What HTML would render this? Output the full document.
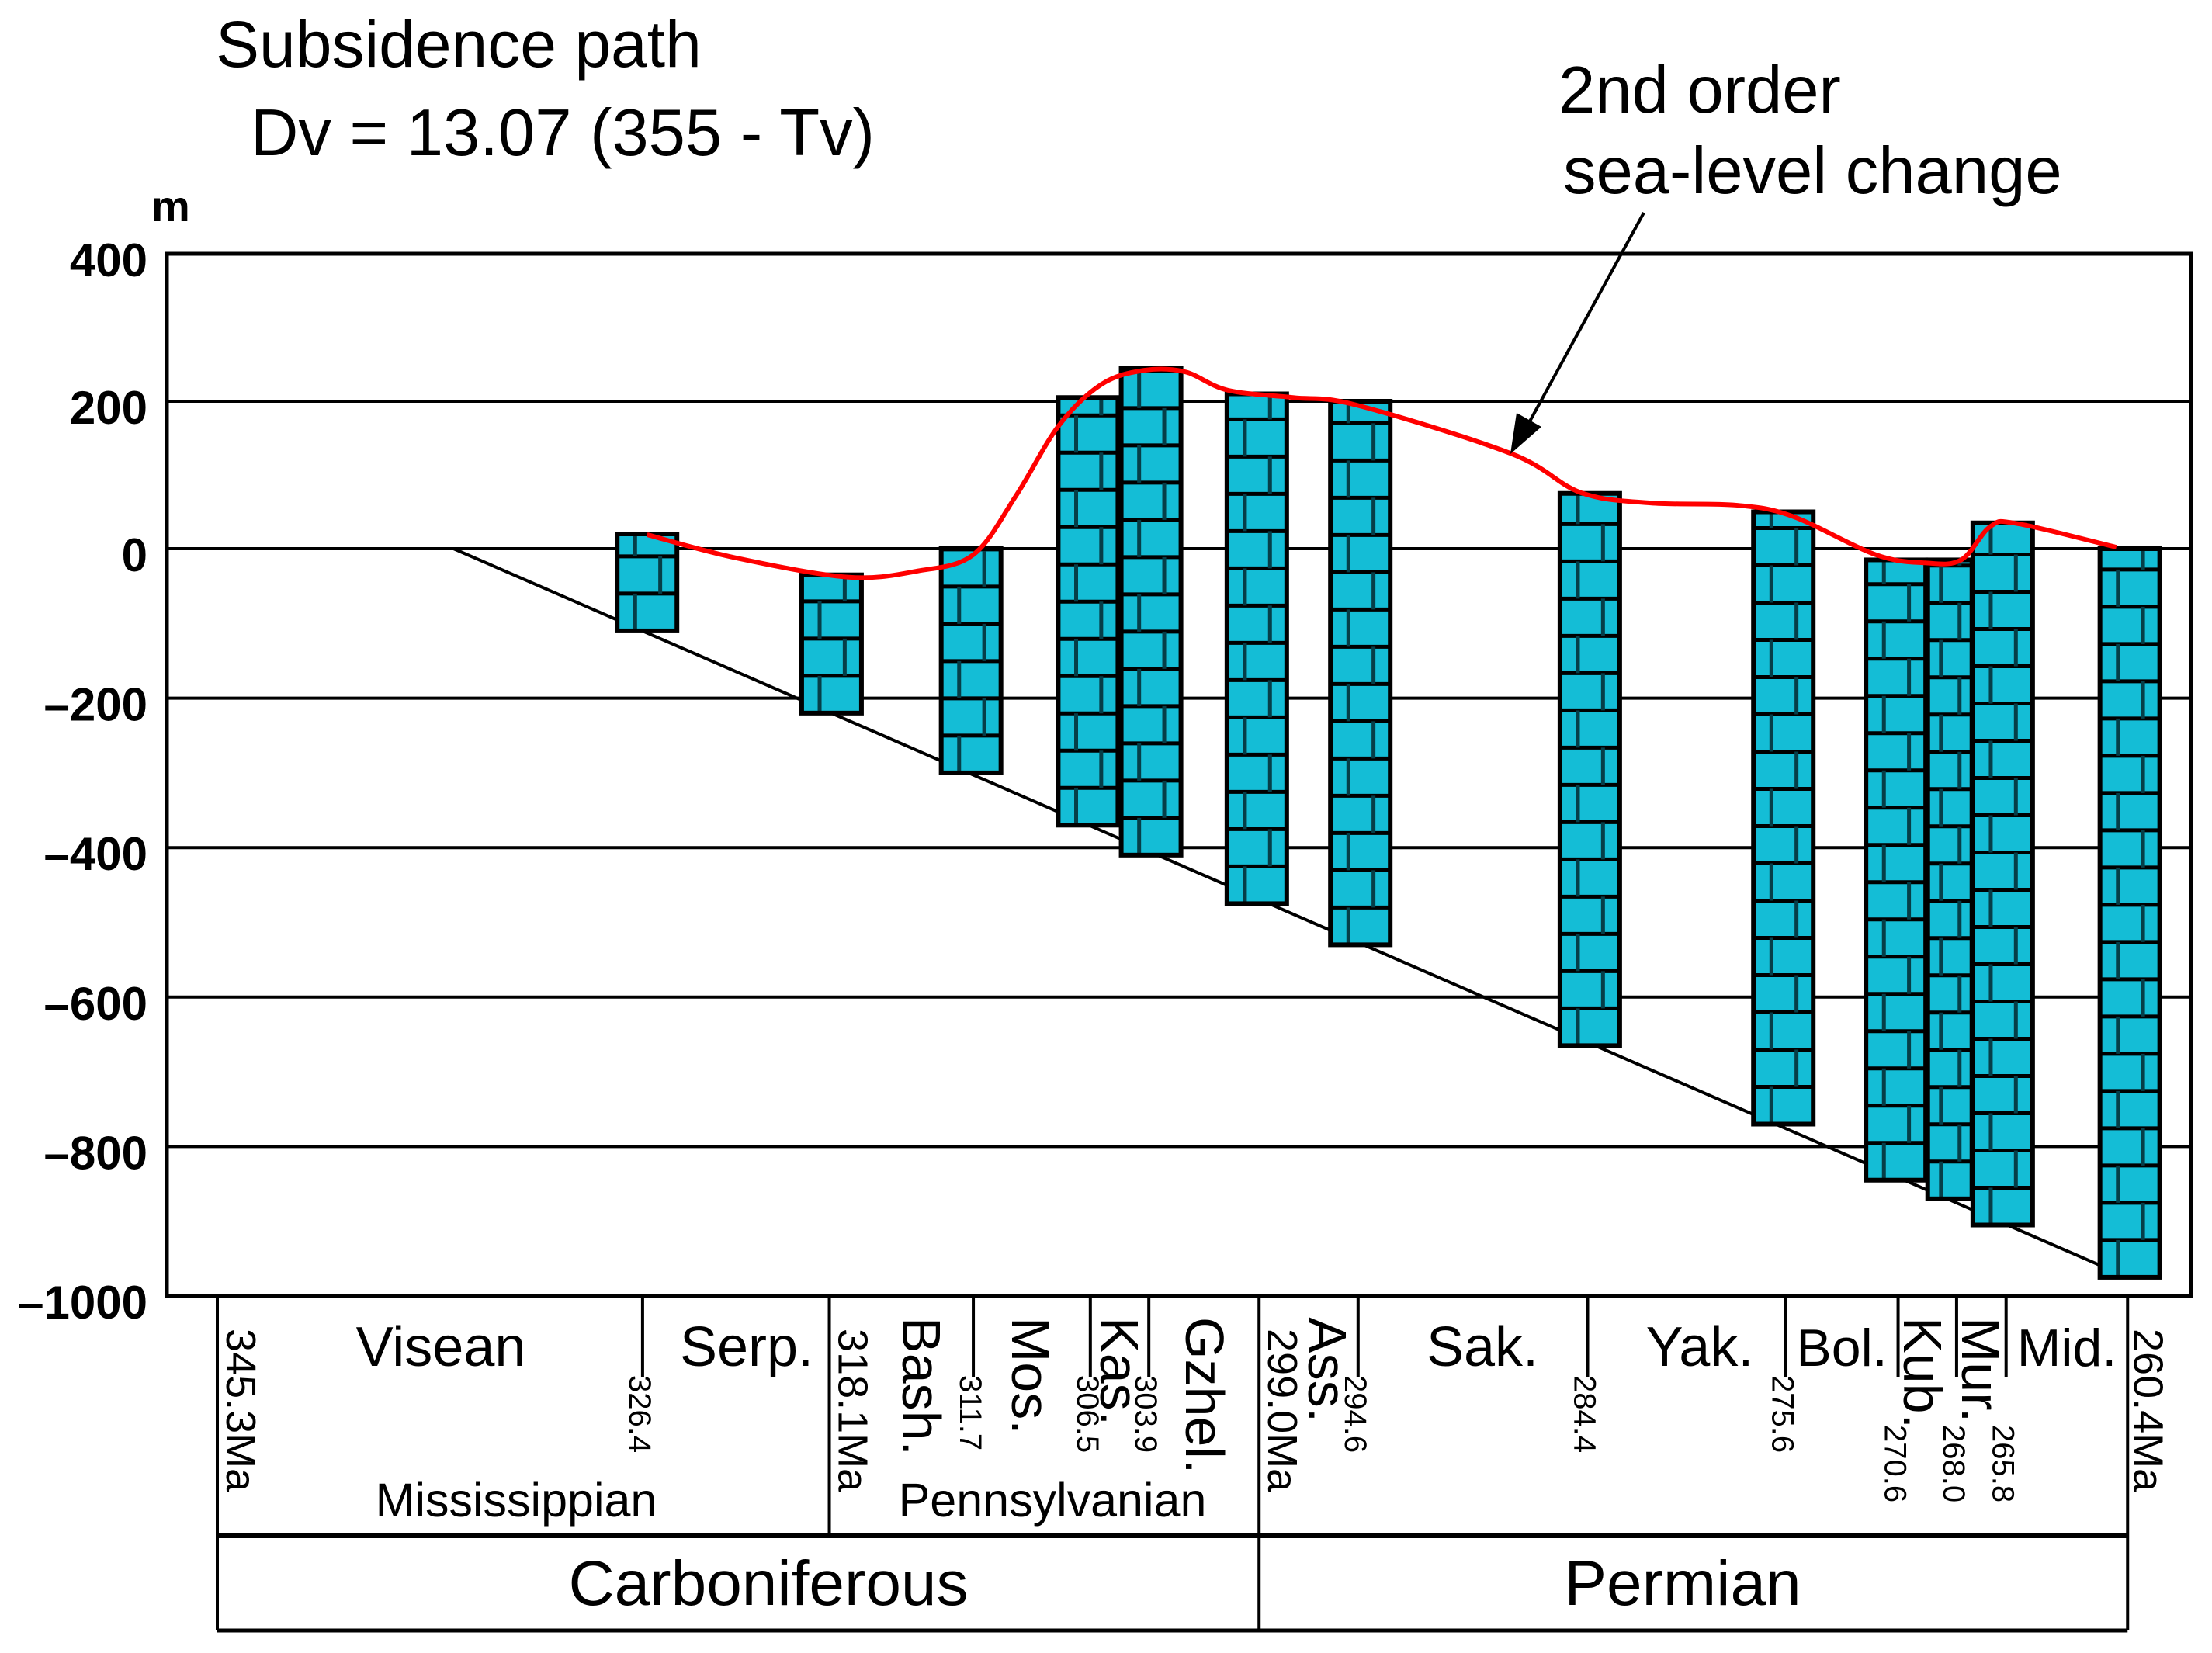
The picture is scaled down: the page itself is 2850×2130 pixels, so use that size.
<!DOCTYPE html>
<html><head><meta charset="utf-8"><style>
html,body{margin:0;padding:0;background:#fff}
svg{display:block}
text{font-family:"Liberation Sans",Arial,sans-serif;fill:#000}
</style></head><body>
<svg id="chart" width="2850" height="2130" viewBox="0 0 2850 2130" xmlns="http://www.w3.org/2000/svg">
<text x="278" y="86" font-size="84">Subsidence path</text>
<text x="323" y="200" font-size="85">Dv = 13.07 (355 - Tv)</text>
<text x="2008" y="145" font-size="85">2nd order</text>
<text x="2014" y="249" font-size="85">sea-level change</text>
<text x="195" y="285" font-size="56" font-weight="bold">m</text>
<g id="grid"></g>
<g id="yticks"></g>
<g id="subs"></g>
<g id="bars"></g>
<g id="curve"></g>
<g id="frame"></g>
<g id="header"></g>
<g>
<line x1="2118" y1="274" x2="1966" y2="552" stroke="#000" stroke-width="4"/>
<polygon points="1946,585 1954,532 1986,550" fill="#000"/>
</g>
</svg>
<script>
const yTicks=[400,200,0,-200,-400,-600,-800,-1000];
const barTimes=[326.2,318.0,311.8,306.6,303.8,299.1,294.5,284.3,275.7,270.7,268.3,265.95,260.3];
const barTops=[20,-35,0,205,245,210,200,75,50,-15,-15,35,0];
const barBottoms=[-110,-220,-300,-370,-410,-475,-530,-665,-770,-845,-870,-905,-975];
const curveTimes=[326.2,322.3,317.3,314.2,311.7,309.8,307.9,306.0,304.1,302.3,300.4,297.5,294.7,287.8,284.7,281.6,277.8,275.3,271.6,269.4,267.8,266.5,265.3,260.9];
const curveValues=[19,-12,-38,-30,-8,72,167,223,242,240,215,205,195,129,76,62,59,44,-8,-19,-15,30,34,2];
const subsTimes=[334.8,260.4];
const subsDepths=[0,-975];
const boundaryTimes=[345.3,326.4,318.1,311.7,306.5,303.9,299.0,294.6,284.4,275.6,270.6,268.0,265.8,260.4];
const boundaryLabels=["345.3Ma","326.4","318.1Ma","311.7","306.5","303.9","299.0Ma","294.6","284.4","275.6","270.6","268.0","265.8","260.4Ma"];

const NS="http://www.w3.org/2000/svg";
const X0=215,X1=2823;
function xOf(t){return 280+(345.3-t)*28.99;}
function yOf(v){return v>=0?707-v*0.95:707-v*0.963;}
function mk(tag,attrs,parent){const e=document.createElementNS(NS,tag);for(const k in attrs)e.setAttribute(k,attrs[k]);parent.appendChild(e);return e;}

const grid=document.getElementById('grid'),yt=document.getElementById('yticks');
yTicks.forEach(v=>{
  const l=mk('line',{x1:X0,x2:X1,y1:yOf(v),y2:yOf(v),stroke:'#000','stroke-width':4},grid);
  
  
  const t=mk('text',{x:190,y:yOf(v)+29,'font-size':60,'font-weight':'bold','text-anchor':'end'},yt);
  t.textContent=v<0?'\u2013'+Math.abs(v):String(v);
  
  
});

const subs=document.getElementById('subs');
const sl=mk('line',{x1:xOf(subsTimes[0]),y1:yOf(subsDepths[0]),x2:xOf(subsTimes[1]),y2:yOf(subsDepths[1]),stroke:'#000','stroke-width':4},subs);



const bars=document.getElementById('bars');
barTimes.forEach((t,i)=>{
  const w=(i===10)?57:77;
  const x=xOf(t)-w/2;
  const y0=yOf(barTops[i]),y1=yOf(barBottoms[i]);
  const g=mk('g',{},bars);
  
  
  mk('rect',{x:x,y:y0,width:w,height:y1-y0,fill:'#14bdd6'},g);
  const rh=48;
  for(let y=y1-rh;y>y0;y-=rh){
    mk('line',{x1:x,x2:x+w,y1:y,y2:y,stroke:'#000','stroke-width':5},g);
  }
  let row=0;
  for(let y=y1;y>y0;y-=rh){
    const top=Math.max(y-rh,y0);
    const vx=(row%2===0)?x+w*0.3:x+w*0.72;
    mk('line',{x1:vx,x2:vx,y1:top,y2:y,stroke:'#063e48','stroke-width':5},g);
    row++;
  }
  mk('rect',{x:x,y:y0,width:w,height:y1-y0,fill:'none',stroke:'#000','stroke-width':6},g);
});

const pts=curveTimes.map((t,i)=>[xOf(t),yOf(curveValues[i])]);
let d='M'+pts[0][0]+','+pts[0][1];
for(let i=0;i<pts.length-1;i++){
  const p0=pts[Math.max(0,i-1)],p1=pts[i],p2=pts[i+1],p3=pts[Math.min(pts.length-1,i+2)];
  const c1=[p1[0]+(p2[0]-p0[0])/6,p1[1]+(p2[1]-p0[1])/6];
  const c2=[p2[0]-(p3[0]-p1[0])/6,p2[1]-(p3[1]-p1[1])/6];
  d+=' C'+c1[0]+','+c1[1]+' '+c2[0]+','+c2[1]+' '+p2[0]+','+p2[1];
}
const cp=mk('path',{d:d,fill:'none',stroke:'#ff0000','stroke-width':6},document.getElementById('curve'));



const fr=mk('rect',{x:X0,y:yOf(400),width:X1-X0,height:yOf(-1000)-yOf(400),fill:'none',stroke:'#000','stroke-width':5},document.getElementById('frame'));



const H=document.getElementById('header');
const HT=yOf(-1000),HM=1979,HB=2101;
function hl(x1,y1,x2,y2,w){const l=mk('line',{x1,y1,x2,y2,stroke:'#000','stroke-width':w||3},H);}
hl(xOf(345.3),HM,xOf(260.4),HM,6);
hl(xOf(345.3),HB,xOf(260.4),HB,5);
boundaryTimes.forEach((t,i)=>{
  const x=xOf(t);
  let y2=1775;
  if(i===0||i===boundaryTimes.length-1||t===299.0)y2=HB;
  else if(t===318.1)y2=HM;
  hl(x,HT,x,y2,4);
  const big=boundaryLabels[i].indexOf('Ma')>0;
  let lx=big?x+30:x-4, ly=big?1712:1772;
  if(t===270.6||t===268.0||t===265.8)ly=1836;
  if(t===260.4)lx=x+26;
  const tx=mk('text',{x:0,y:0,'font-size':big?54:40,'dominant-baseline':'central',transform:'translate('+lx+','+ly+') rotate(90)'},H);
  tx.textContent=boundaryLabels[i];
  
  
});
const hStages=[["Visean",568,72],["Serp.",962,72],["Sak.",1910,72],["Yak.",2190,72],["Bol.",2373,68],["Mid.",2663,68]];
hStages.forEach(s=>{const t=mk('text',{x:s[1],y:1760,'font-size':s[2],'text-anchor':'middle'},H);t.textContent=s[0];});
const vStages=[["Bash.",1187],["Mos.",1328],["Kas.",1442],["Gzhel.",1552],["Ass.",1710],["Kub.",2477],["Mur.",2552]];
vStages.forEach(s=>{const t=mk('text',{x:0,y:0,'font-size':70,'dominant-baseline':'central',transform:'translate('+s[1]+',1697) rotate(90)'},H);t.textContent=s[0];});
const sub=[["Mississippian",665,1954,61],["Pennsylvanian",1356,1954,61],["Carboniferous",990,2068,82],["Permian",2168,2068,82]];
sub.forEach(s=>{const t=mk('text',{x:s[1],y:s[2],'font-size':s[3],'text-anchor':'middle'},H);t.textContent=s[0];});
</script>
</body></html>
